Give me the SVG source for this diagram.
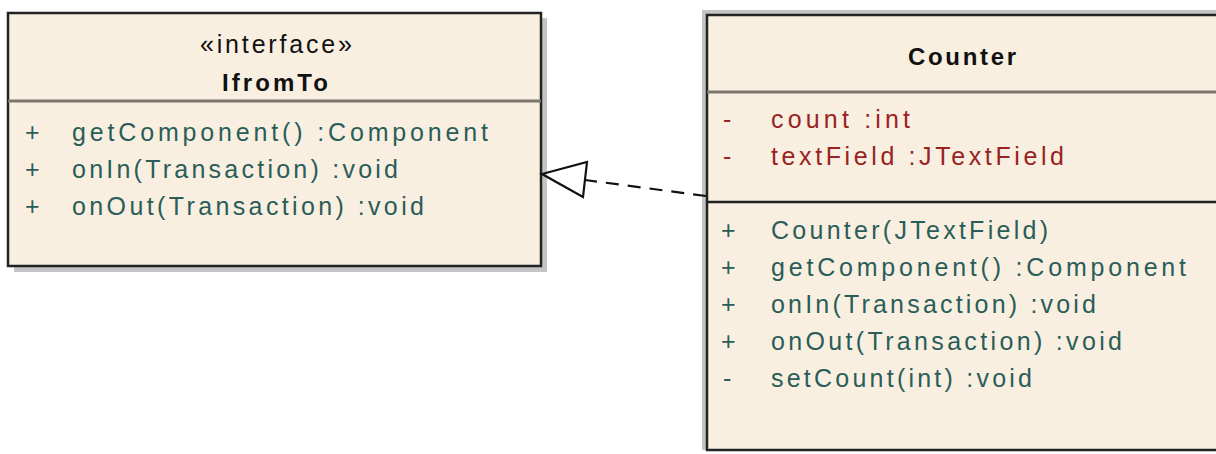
<svg xmlns="http://www.w3.org/2000/svg" width="1216" height="454" viewBox="0 0 1216 454">
<style>
.box{fill:#f8efe1;stroke:#222;stroke-width:2.5}
.shadow{fill:#c4c4c4}
.hdiv{stroke:#7d766c;stroke-width:3}
.t{font-family:"Liberation Sans",Arial,sans-serif;font-size:25px}
.op{fill:#2a5d58}
.at{fill:#9a2222}
.hd{fill:#111}
.b{font-weight:bold;font-size:24px}
.conn{fill:none;stroke:#111;stroke-width:2.2}
</style>
<rect width="1216" height="454" fill="#fff"/>
<g id="IfromTo">
<rect class="shadow" x="14" y="18" width="533" height="254"/>
<rect class="box" x="8" y="13" width="533" height="253"/>
<line class="hdiv" x1="8" y1="101" x2="541" y2="101"/>
<text class="t hd" x="276" y="53" text-anchor="middle" textLength="152">«interface»</text>
<text class="t hd b" x="275" y="91" text-anchor="middle" textLength="106">IfromTo</text>
<text class="t op" x="25" y="141">+</text>
<text class="t op" x="72" y="141" textLength="416">getComponent()  :Component</text>
<text class="t op" x="25" y="178">+</text>
<text class="t op" x="72" y="178" textLength="326">onIn(Transaction)  :void</text>
<text class="t op" x="25" y="215">+</text>
<text class="t op" x="72" y="215" textLength="352">onOut(Transaction)  :void</text>
</g>
<g id="Counter">
<rect class="shadow" x="702" y="10" width="520" height="440"/>
<rect class="box" x="707" y="15" width="515" height="435"/>
<line class="hdiv" x1="707" y1="92" x2="1222" y2="92"/>
<line x1="707" y1="202" x2="1222" y2="202" stroke="#222" stroke-width="2.5"/>
<text class="t hd b" x="962" y="65" text-anchor="middle" textLength="108">Counter</text>
<text class="t at" x="723" y="128">-</text>
<text class="t at" x="771" y="128" textLength="139">count  :int</text>
<text class="t at" x="723" y="165">-</text>
<text class="t at" x="771" y="165" textLength="293">textField  :JTextField</text>
<text class="t op" x="721" y="239">+</text>
<text class="t op" x="771" y="239" textLength="277">Counter(JTextField)</text>
<text class="t op" x="721" y="276">+</text>
<text class="t op" x="771" y="276" textLength="415">getComponent()  :Component</text>
<text class="t op" x="721" y="313">+</text>
<text class="t op" x="771" y="313" textLength="325">onIn(Transaction)  :void</text>
<text class="t op" x="721" y="350">+</text>
<text class="t op" x="771" y="350" textLength="351">onOut(Transaction)  :void</text>
<text class="t op" x="723" y="387">-</text>
<text class="t op" x="771" y="387" textLength="261">setCount(int)  :void</text>
</g>
<g id="connectors">
<line class="conn" x1="706" y1="196" x2="585" y2="180" stroke-dasharray="13,9"/>
<polygon class="conn" points="542,174 587,162 583,197" fill="#f8efe1"/>
</g>
</svg>
